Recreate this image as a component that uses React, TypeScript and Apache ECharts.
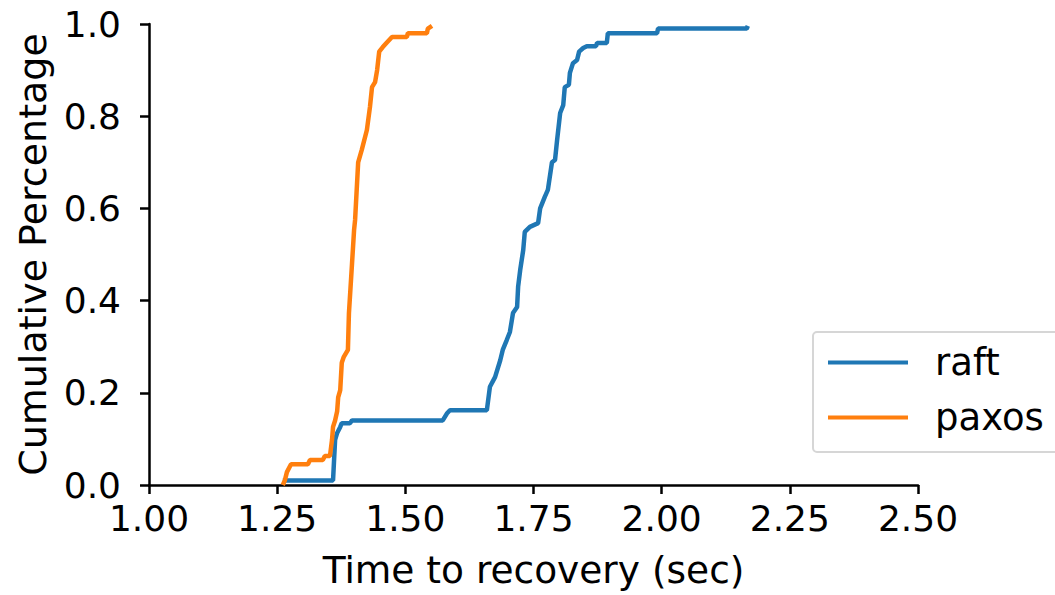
import React, { useEffect, useRef } from "react";
import * as echarts from "echarts";

const xTicks = [1.0, 1.25, 1.5, 1.75, 2.0, 2.25, 2.5];
const yTicks = [0.0, 0.2, 0.4, 0.6, 0.8, 1.0];
const seriesNames = ["raft", "paxos"];

const raft: [number, number][] = [
  [1.261, 0.01], [1.359, 0.01], [1.363, 0.098], [1.367, 0.113], [1.373, 0.126], [1.376, 0.134],
  [1.392, 0.134], [1.396, 0.14], [1.573, 0.14], [1.581, 0.155], [1.587, 0.162], [1.659, 0.162],
  [1.665, 0.213], [1.675, 0.234], [1.685, 0.27], [1.69, 0.293], [1.698, 0.315], [1.704, 0.332],
  [1.71, 0.373], [1.718, 0.386], [1.72, 0.43], [1.724, 0.466], [1.73, 0.51], [1.733, 0.549],
  [1.743, 0.56], [1.759, 0.568], [1.763, 0.6], [1.772, 0.625], [1.778, 0.64], [1.786, 0.7],
  [1.792, 0.705], [1.796, 0.748], [1.802, 0.807], [1.808, 0.824], [1.811, 0.863], [1.819, 0.868],
  [1.821, 0.894], [1.827, 0.915], [1.835, 0.922], [1.839, 0.94], [1.847, 0.948], [1.854, 0.952],
  [1.872, 0.952], [1.874, 0.959], [1.893, 0.959], [1.895, 0.98], [1.991, 0.98], [1.993, 0.99],
  [2.166, 0.99], [2.168, 0.996],
];

const paxos: [number, number][] = [
  [1.261, 0.0], [1.265, 0.01], [1.269, 0.028], [1.277, 0.045], [1.31, 0.045], [1.314, 0.054],
  [1.339, 0.054], [1.343, 0.063], [1.353, 0.063], [1.357, 0.098], [1.359, 0.126], [1.363, 0.14],
  [1.367, 0.16], [1.369, 0.19], [1.373, 0.206], [1.376, 0.265], [1.38, 0.278], [1.388, 0.293],
  [1.39, 0.373], [1.396, 0.48], [1.4, 0.553], [1.402, 0.575], [1.408, 0.7], [1.415, 0.727],
  [1.425, 0.77], [1.431, 0.82], [1.435, 0.863], [1.441, 0.874], [1.445, 0.9], [1.449, 0.94],
  [1.456, 0.95], [1.464, 0.96], [1.474, 0.972], [1.503, 0.972], [1.505, 0.98], [1.542, 0.98],
  [1.544, 0.99], [1.552, 0.996],
];

const FONT = "DejaVu Sans";

export default function App() {
  const ref = useRef<HTMLDivElement>(null);
  useEffect(() => {
    if (!ref.current) return;
    const chart = echarts.init(ref.current, null, { renderer: "svg" });
    chart.setOption({
      animation: false,
      grid: { left: 149, top: 24, right: 137, bottom: 110, containLabel: false },
      legend: {
        data: seriesNames,
        orient: "vertical",
        left: 813,
        top: 332,
        padding: [12, 20, 16, 15],
        itemGap: 18,
        itemWidth: 80,
        itemHeight: 4,
        icon: "rect",
        borderColor: "#d6d6d6",
        borderWidth: 2,
        borderRadius: 4,
        backgroundColor: "#ffffff",
        textStyle: { fontFamily: FONT, fontSize: 37, color: "#000", padding: [0, 0, 0, 22], lineHeight: 37 },
      },
      xAxis: {
        type: "value",
        min: xTicks[0],
        max: xTicks[xTicks.length - 1],
        interval: 0.25,
        name: "Time to recovery (sec)",
        nameLocation: "middle",
        nameGap: 66,
        nameTextStyle: { fontFamily: FONT, fontSize: 37.5, color: "#000" },
        axisLine: { lineStyle: { color: "#000", width: 2.5 } },
        axisTick: { show: true, length: 9, lineStyle: { color: "#000", width: 2.5 } },
        axisLabel: {
          fontFamily: FONT, fontSize: 36, color: "#000", margin: 15,
          formatter: (v: number) => v.toFixed(2),
        },
        splitLine: { show: false },
      },
      yAxis: {
        type: "value",
        min: yTicks[0],
        max: yTicks[yTicks.length - 1],
        interval: 0.2,
        name: "Cumulative Percentage",
        nameLocation: "middle",
        nameGap: 97,
        nameTextStyle: { fontFamily: FONT, fontSize: 38, color: "#000" },
        axisLine: { show: true, lineStyle: { color: "#000", width: 2.5 } },
        axisTick: { show: true, length: 9, lineStyle: { color: "#000", width: 2.5 } },
        axisLabel: {
          fontFamily: FONT, fontSize: 36, color: "#000", margin: 28,
          formatter: (v: number) => v.toFixed(1),
        },
        splitLine: { show: false },
      },
      series: [
        {
          name: seriesNames[0],
          type: "line",
          data: raft,
          showSymbol: false,
          color: "#1f77b4",
          lineStyle: { width: 4.5, color: "#1f77b4" },
        },
        {
          name: seriesNames[1],
          type: "line",
          data: paxos,
          showSymbol: false,
          color: "#ff7f0e",
          lineStyle: { width: 4.5, color: "#ff7f0e" },
        },
      ],
    });
    return () => chart.dispose();
  }, []);
  return (
    <div
      ref={ref}
      style={{ position: "fixed", left: 0, top: 0, width: 1055, height: 595, background: "#fff" }}
    />
  );
}
